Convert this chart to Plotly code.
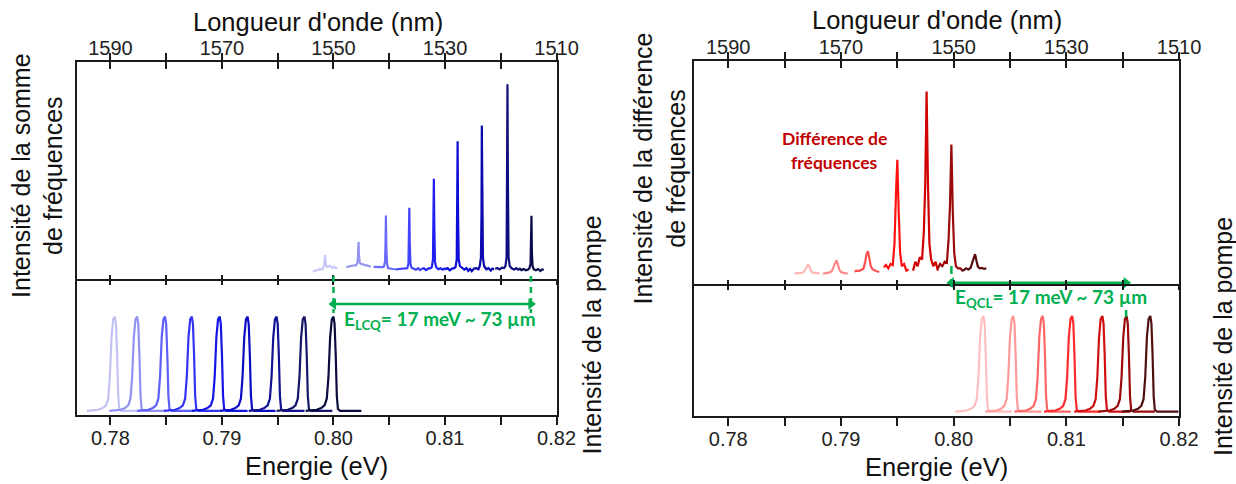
import plotly.graph_objects as go

W, H = 1236, 484          # reference picture size (pixel positions below refer to it)
FIG_W = 1257              # layout width (compensates the horizontal squeeze of the capture)

# ---------------- data ----------------
pump_left_centers = [0.7804, 0.7824, 0.7849, 0.7873, 0.7898, 0.7923, 0.7949, 0.7974, 0.8000]
pump_right_centers = [0.80265, 0.8053, 0.8079, 0.81052, 0.8132, 0.81535, 0.81745]

# shared normalised pump line shape (all pump peaks look identical)
pump_offsets = [-0.0025, -0.0015, -0.0011, -0.0008, -0.0006, -0.00045, -0.0003, -0.00015,
                0.0, 0.0001, 0.0002, 0.0003, 0.0004, 0.0006, 0.0015, 0.0025]
pump_profile = [0.0, 0.012, 0.03, 0.06, 0.13, 0.36, 0.78, 0.97,
                1.0, 0.92, 0.6, 0.16, 0.02, 0.0, 0.0, 0.0]

sfg_centers = [0.79925, 0.80225, 0.8047, 0.8068, 0.8090, 0.81113, 0.8133, 0.8156, 0.81775]
sfg_offsets = [-0.0011, -0.0009, -0.0007, -0.0005, -0.0003, -0.00018, -0.00008, -0.00003, 0.0,
               0.00004, 0.0001, 0.0002, 0.0004, 0.0006, 0.0008, 0.00095, 0.0011]
sfg_values = [
    [0.033, 0.038, 0.041, 0.045, 0.044, 0.050, 0.065, 0.090, 0.112, 0.080, 0.060, 0.055, 0.062, 0.052, 0.056, 0.050, 0.052],
    [0.055, 0.058, 0.060, 0.062, 0.063, 0.066, 0.080, 0.120, 0.170, 0.110, 0.075, 0.070, 0.066, 0.064, 0.062, 0.058, 0.056],
    [0.056, 0.055, 0.054, 0.053, 0.055, 0.058, 0.080, 0.170, 0.293, 0.150, 0.070, 0.050, 0.047, 0.046, 0.045, 0.045, 0.044],
    [0.045, 0.046, 0.044, 0.047, 0.048, 0.050, 0.070, 0.200, 0.328, 0.160, 0.070, 0.052, 0.048, 0.043, 0.050, 0.041, 0.047],
    [0.046, 0.050, 0.041, 0.048, 0.050, 0.055, 0.090, 0.380, 0.462, 0.250, 0.080, 0.055, 0.045, 0.050, 0.043, 0.048, 0.045],
    [0.045, 0.050, 0.040, 0.048, 0.050, 0.056, 0.090, 0.300, 0.635, 0.300, 0.090, 0.060, 0.050, 0.043, 0.050, 0.037, 0.046],
    [0.050, 0.036, 0.048, 0.050, 0.045, 0.060, 0.100, 0.300, 0.707, 0.350, 0.100, 0.060, 0.045, 0.050, 0.039, 0.048, 0.044],
    [0.048, 0.050, 0.044, 0.052, 0.050, 0.060, 0.100, 0.420, 0.897, 0.450, 0.100, 0.060, 0.048, 0.044, 0.050, 0.043, 0.046],
    [0.050, 0.041, 0.046, 0.040, 0.044, 0.050, 0.070, 0.160, 0.291, 0.120, 0.060, 0.045, 0.040, 0.046, 0.037, 0.044, 0.042],
]

dfg_centers = [0.7871, 0.7896, 0.7924, 0.7950, 0.7976, 0.7998, 0.8019]
dfg_offsets = [-0.0012, -0.001, -0.0008, -0.0006, -0.0004, -0.00025, -0.00012, 0.0,
               0.00012, 0.00025, 0.0004, 0.0006, 0.0008, 0.001]
dfg_values = [
    [0.048, 0.048, 0.049, 0.050, 0.053, 0.065, 0.080, 0.089, 0.075, 0.058, 0.051, 0.049, 0.048, 0.048],
    [0.046, 0.048, 0.050, 0.052, 0.058, 0.080, 0.098, 0.107, 0.090, 0.065, 0.054, 0.050, 0.048, 0.047],
    [0.056, 0.060, 0.058, 0.062, 0.068, 0.100, 0.135, 0.147, 0.115, 0.080, 0.066, 0.060, 0.056, 0.055],
    [0.075, 0.085, 0.070, 0.090, 0.085, 0.180, 0.400, 0.557, 0.330, 0.140, 0.080, 0.090, 0.060, 0.065],
    [0.060, 0.100, 0.080, 0.120, 0.110, 0.230, 0.450, 0.863, 0.450, 0.180, 0.110, 0.080, 0.100, 0.060],
    [0.070, 0.090, 0.080, 0.100, 0.095, 0.200, 0.360, 0.625, 0.330, 0.140, 0.080, 0.070, 0.070, 0.060],
    [0.060, 0.062, 0.070, 0.065, 0.072, 0.095, 0.123, 0.134, 0.105, 0.078, 0.070, 0.072, 0.068, 0.070],
]

energy_ticks = [0.78, 0.79, 0.80, 0.81, 0.82]
wavelength_ticks = [1590, 1570, 1550, 1530, 1510]

lcq_start, lcq_end = 0.8000, 0.8177
qcl_start, qcl_end = 0.7998, 0.8153

# ---------------- styles ----------------
pump_left_colors = ["#c2c2f4", "#9292f0", "#5e5ef8", "#3434f2", "#1414e4", "#0c0cc4", "#121294", "#15156a", "#0b0b40"]
sfg_colors = ["#c8c8f8", "#9494f2", "#6a6af8", "#4242ff", "#2020f2", "#0e0ed8", "#0a0ab0", "#0e0e80", "#0a0a4c"]
dfg_colors = ["#ffb8b8", "#ff8888", "#ff5050", "#ff1010", "#d00000", "#9a0a0a", "#5a1010"]
pump_right_colors = ["#ffc0c0", "#ff9a9a", "#ff6666", "#ff2a2a", "#d01010", "#9a0a0a", "#501010"]

GREEN = "#00b050"
DRED = "#c00000"
AXC = "#1a1a1a"
FONT = "Liberation Sans, Arial, sans-serif"
BFONT = "Lato, Open Sans, sans-serif"


def px(x):
    return x / W


def py(y):
    return 1 - y / H


E_RANGE = [0.7770, 0.82]
WL_RANGE = [1590 + (0.78 - E_RANGE[0]) * 2000, 1510]
LB_RANGE = [-0.0432, 1.398]
RB_RANGE = [-0.0455, 1.334]

fig = go.Figure()


def add_pump(centers, colors, xa, ya):
    for c, col in zip(centers, colors):
        fig.add_trace(go.Scatter(
            x=[c + o for o in pump_offsets], y=pump_profile, mode="lines",
            line=dict(color=col, width=2.2), xaxis=xa, yaxis=ya,
            showlegend=False, hoverinfo="skip"))


def add_peaks(centers, offsets, values, colors, xa, ya):
    for c, vals, col in zip(centers, values, colors):
        fig.add_trace(go.Scatter(
            x=[c + o for o in offsets], y=vals, mode="lines",
            line=dict(color=col, width=2.2), xaxis=xa, yaxis=ya,
            showlegend=False, hoverinfo="skip"))


add_pump(pump_left_centers, pump_left_colors, "x", "y")
add_peaks(sfg_centers, sfg_offsets, sfg_values, sfg_colors, "x2", "y2")
add_pump(pump_right_centers, pump_right_colors, "x6", "y3")
add_peaks(dfg_centers, dfg_offsets, dfg_values, dfg_colors, "x7", "y4")

# dummy traces so overlay axes exist
for xa, ya in [("x3", "y2"), ("x4", "y2"), ("x5", "y2"), ("x8", "y4"), ("x9", "y4"), ("x10", "y4")]:
    fig.add_trace(go.Scatter(x=[None], y=[None], xaxis=xa, yaxis=ya, showlegend=False, hoverinfo="skip"))

# green double arrows (line with triangular heads)
for (x0, x1, yv, xa, ya) in [(lcq_start, lcq_end, 1.133, "x", "y"), (qcl_start, qcl_end, 0.006, "x7", "y4")]:
    fig.add_trace(go.Scatter(
        x=[x0, x1], y=[yv, yv], mode="lines+markers", xaxis=xa, yaxis=ya,
        line=dict(color=GREEN, width=2.5),
        marker=dict(symbol=["triangle-left", "triangle-right"], size=10, color=GREEN),
        cliponaxis=False, showlegend=False, hoverinfo="skip"))


def eaxis(domain, anchor, side, ticks, ticklen, labels, overlaying=None):
    d = dict(domain=domain, anchor=anchor, side=side, range=E_RANGE,
             showgrid=False, zeroline=False, showline=True, linecolor=AXC, linewidth=1.5,
             ticks=ticks, ticklen=ticklen, tickwidth=1.5, tickcolor=AXC,
             tickvals=energy_ticks, tickformat=".2f", showticklabels=labels,
             ticklabelstandoff=-4,
             tickfont=dict(family=FONT, size=20, color="#222"),
             minor=dict(ticks=ticks, ticklen=ticklen, tickwidth=1.5, tickcolor=AXC,
                        dtick=0.005, tick0=0.78, showgrid=False))
    if overlaying:
        d["overlaying"] = overlaying
    return d


def waxis(domain, anchor, overlaying):
    return dict(domain=domain, anchor=anchor, side="top", overlaying=overlaying,
                range=WL_RANGE, showgrid=False, zeroline=False, showline=True,
                linecolor=AXC, linewidth=1.5, ticks="inside", ticklen=7, tickwidth=1.5,
                tickcolor=AXC, tickvals=wavelength_ticks, showticklabels=True,
                ticklabelstandoff=-3,
                tickfont=dict(family=FONT, size=20, color="#222"),
                minor=dict(ticks="inside", ticklen=7, tickwidth=1.5, tickcolor=AXC,
                           dtick=10, tick0=1510, showgrid=False))


def yax(domain, anchor, rng):
    return dict(domain=domain, anchor=anchor, range=rng, showgrid=False, zeroline=False,
                showline=True, mirror=True, linecolor=AXC, linewidth=1.5,
                ticks="", showticklabels=False)


LX = [px(77), px(557)]
RX = [px(695), px(1180)]
LT = [py(279), py(62)]
LBd = [py(415), py(279)]
RT = [py(284), py(61)]
RBd = [py(416), py(284)]

fig.update_layout(
    width=FIG_W, height=H, margin=dict(l=0, r=0, t=0, b=0),
    paper_bgcolor="white", plot_bgcolor="rgba(0,0,0,0)", showlegend=False,
    xaxis=eaxis(LX, "y", "bottom", "outside", 8, True),
    xaxis2=eaxis(LX, "y2", "bottom", "outside", 4, False),
    xaxis3=eaxis(LX, "y2", "bottom", "inside", 4, False, "x2"),
    xaxis4=waxis(LX, "y2", "x2"),
    xaxis5=eaxis(LX, "y2", "top", "outside", 7, False, "x2"),
    xaxis6=eaxis(RX, "y3", "bottom", "outside", 8, True),
    xaxis7=eaxis(RX, "y4", "bottom", "outside", 4, False),
    xaxis8=eaxis(RX, "y4", "bottom", "inside", 4, False, "x7"),
    xaxis9=waxis(RX, "y4", "x7"),
    xaxis10=eaxis(RX, "y4", "top", "outside", 7, False, "x7"),
    yaxis=yax(LBd, "x", LB_RANGE),
    yaxis2=yax(LT, "x2", [0, 1]),
    yaxis3=yax(RBd, "x6", RB_RANGE),
    yaxis4=yax(RT, "x7", [0, 1]),
)

ann = []


def text(x, y, s, size=25, angle=0, color="#111", family=FONT, xanchor="center"):
    ann.append(dict(x=px(x), y=py(y), xref="paper", yref="paper", text=s, showarrow=False,
                    textangle=angle, xanchor=xanchor, yanchor="middle",
                    font=dict(family=family, size=size, color=color)))


text(318, 22, "Longueur d'onde (nm)", size=25.5)
text(938, 20, "Longueur d'onde (nm)", size=25.5)
text(317, 466, "Energie (eV)", size=25.5)
text(937, 467, "Energie (eV)", size=25.5)
text(38, 175, "Intensité de la somme<br>de fréquences", angle=-90)
text(661, 168, "Intensité de la différence<br>de fréquences", angle=-90)
text(592, 335, "Intensité de la pompe", angle=-90)
text(1224, 337, "Intensité de la pompe", angle=-90)
text(835, 138, "<b>Différence de</b>", size=17.5, color=DRED, family=BFONT)
text(835, 162, "<b>fréquences</b>", size=17.5, color=DRED, family=BFONT)
text(342, 320, "<b>E<sub>LCQ</sub>= 17 meV ~ 73 µm</b>", size=19, color=GREEN, family=BFONT, xanchor="left")
text(954, 298, "<b>E<sub>QCL</sub>= 17 meV ~ 73 µm</b>", size=19, color=GREEN, family=BFONT, xanchor="left")
fig.update_layout(annotations=ann)

shapes = [
    dict(type="line", xref="x", yref="paper", x0=lcq_start, x1=lcq_start, y0=py(276), y1=py(313),
         line=dict(color=GREEN, width=2.5, dash="6px,5px")),
    dict(type="line", xref="x", yref="paper", x0=lcq_end, x1=lcq_end, y0=py(276), y1=py(313),
         line=dict(color=GREEN, width=2.5, dash="6px,5px")),
    dict(type="line", xref="x6", yref="paper", x0=qcl_start, x1=qcl_start, y0=py(266), y1=py(292),
         line=dict(color=GREEN, width=2.5, dash="8px,5px")),
    dict(type="line", xref="x6", yref="paper", x0=qcl_end, x1=qcl_end, y0=py(310), y1=py(317),
         line=dict(color=GREEN, width=2.5)),
]
fig.update_layout(shapes=shapes)

fig.write_html(
    "out.html",
    config={"displayModeBar": False},
    post_script="document.body.style.margin='0';document.documentElement.style.overflow='hidden';document.body.style.overflow='hidden';",
)
